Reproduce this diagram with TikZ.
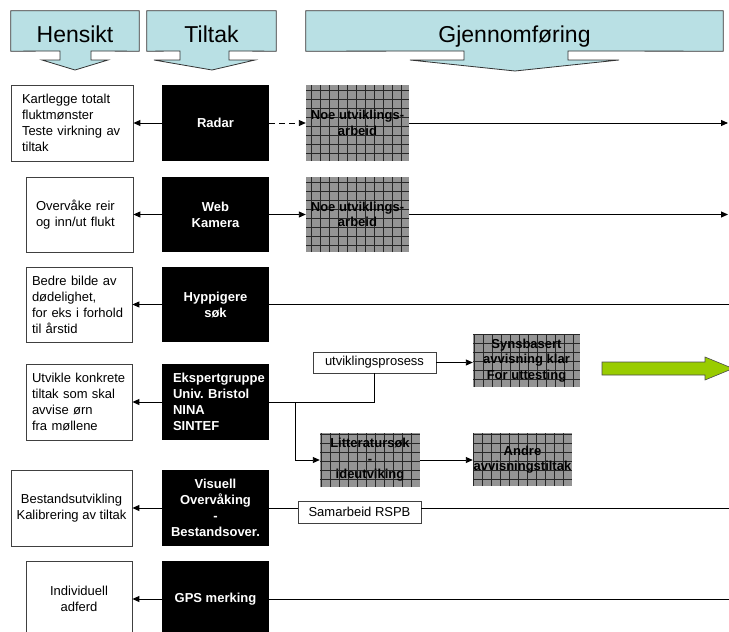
\documentclass[tikz,border=0pt]{standalone}
\usepackage{fontspec}
\setmainfont{Liberation Sans}
\usetikzlibrary{arrows.meta, calc, backgrounds}
\definecolor{headcyan}{RGB}{185,224,228}
\definecolor{leafgreen}{RGB}{153,204,0}

\begin{document}
\begin{tikzpicture}[x=1pt, y=-1pt,
    every node/.style={inner sep=0pt},
    head/.style={minimum height=40pt, text height=24pt, text depth=2pt,
                 font=\fontsize{23}{26}\selectfont},
    hdline/.style={draw=black!80, fill=headcyan, line width=0.8pt},
    goal/.style={draw=black!75, line width=0.8pt, fill=white, minimum height=76pt,
                 font=\fontsize{13}{16}\selectfont},
    tool/.style={fill=black, text=white, minimum width=107pt, minimum height=76pt,
                 align=center, font=\fontsize{13}{16}\selectfont\bfseries\frenchspacing},
    work/.style={fill=black!42, minimum width=103pt, minimum height=76pt, align=center,
                 font=\fontsize{13}{15.5}\selectfont\bfseries,
                 path picture={\draw[black!85, line width=0.5pt, step=9pt]
                   (path picture bounding box.south west) grid (path picture bounding box.north east);}},
    tag/.style={draw=black!75, line width=0.8pt, fill=white, minimum height=22pt,
                font=\fontsize{13}{16}\selectfont},
    link/.style={line width=0.9pt, -{Triangle[length=7pt,width=6pt]}},
    wire/.style={line width=0.9pt}
  ]
  \useasboundingbox (0,0) rectangle (729,632);
  \clip (0,0) rectangle (729,632);

  % column heads
  \node[head, minimum width=128pt] (hensikt) at (75,31) {Hensikt};
  \node[head, minimum width=129pt] (tiltak) at (211.5,31) {Tiltak};
  \node[head, minimum width=417pt] (gjennom) at (514.5,31) {Gjennomføring};
  \begin{scope}[on background layer]
    \draw[hdline] (hensikt.south west) -- (hensikt.north west) -- (hensikt.north east)
      -- (hensikt.south east) -- (91,51) -- (91,60) -- (108,60) -- (75,70) -- (42,60)
      -- (60,60) -- (60,51) -- cycle;
    \draw[hdline] (tiltak.south west) -- (tiltak.north west) -- (tiltak.north east)
      -- (tiltak.south east) -- (229,51) -- (229,60) -- (255,60) -- (212,70) -- (154,60)
      -- (180,60) -- (180,51) -- cycle;
    \draw[hdline] (gjennom.south west) -- (gjennom.north west) -- (gjennom.north east)
      -- (gjennom.south east) -- (568,51) -- (568,60) -- (619,60) -- (515,71) -- (410,60)
      -- (464,60) -- (464,51) -- cycle;
  \end{scope}

  % row 1: radar
  \node[goal, text width=100pt, inner xsep=11pt, align=left] (g1) at (72,123)
    {Kartlegge totalt\\fluktmønster\\Teste virkning av\\tiltak};
  \node[tool] (t1) at (215.5,123) {Radar};
  \node[work] (w1) at (357.5,123) {Noe utviklings-\\arbeid};
  \coordinate (e1) at (728,123);
  \draw[link] (t1) -- (g1);
  \draw[link, dash pattern=on 6pt off 4pt] (t1) -- (w1);
  \draw[link] (w1) -- (e1);

  % row 2: web camera
  \node[goal, minimum height=75pt, text width=87pt, inner xsep=10pt, align=left] (g2) at (79.5,214.5)
    {Overvåke reir\\og inn/ut flukt};
  \node[tool, minimum height=75pt] (t2) at (215.5,214.5) {Web\\Kamera};
  \node[work, minimum height=75pt] (w2) at (357.5,214.5) {Noe utviklings-\\arbeid};
  \coordinate (e2) at (728,214.5);
  \draw[link] (t2) -- (g2);
  \draw[link] (t2) -- (w2);
  \draw[link] (w2) -- (e2);

  % row 3: search
  \node[goal, minimum height=75pt, text width=94pt, inner xsep=6pt, align=left] (g3) at (79,304.5)
    {Bedre bilde av\\dødelighet,\\for eks i forhold\\til årstid};
  \node[tool, minimum height=75pt] (t3) at (215.5,304.5) {Hyppigere\\søk};
  \coordinate (e3) at (729,304.5);
  \draw[link] (t3) -- (g3);
  \draw[wire] (t3) -- (e3);

  % row 4: expert group
  \node[goal, text width=94pt, inner xsep=6pt, align=left] (g4) at (79,402)
    {Utvikle konkrete\\tiltak som skal\\avvise ørn\\fra møllene};
  \node[tool, text width=85pt, inner xsep=11pt, align=left] (t4) at (215.5,402)
    {Ekspertgruppe\\Univ. Bristol\\NINA\\SINTEF};
  \node[tag, minimum width=123pt, minimum height=21pt] (proc) at (374.5,362.5) {utviklingsprosess};
  \node[work, minimum width=107pt, minimum height=53pt] (syn) at (526.5,360.5)
    {Synsbasert\\avvisning klar\\For uttesting};
  \node[work, minimum width=100pt, minimum height=54pt] (lit) at (370,460)
    {Litteratursøk\\-\\ideutviking};
  \node[work, minimum width=99pt, minimum height=53pt] (andre) at (522.5,459.5)
    {Andre\\avvisningstiltak};
  \coordinate (fork) at (295,402);
  \draw[link] (t4) -- (g4);
  \draw[wire] (t4.east) -- (proc.south |- t4.east) -- (proc.south);
  \draw[link] (fork) |- (lit.west);
  \draw[link] (proc.east) -- (proc.east -| syn.west);
  \draw[link] (lit.east) -- (lit.east -| andre.west);
  \draw[draw=black!70, fill=leafgreen, line width=0.6pt]
    (602,362) -- (705,362) -- (705,357) -- (733,368.5) -- (705,380) -- (705,375)
    -- (602,375) -- cycle;

  % row 5: visual counts
  \node[goal, minimum width=121pt, align=center] (g5) at (71.5,508)
    {Bestandsutvikling\\Kalibrering av tiltak};
  \node[tool] (t5) at (215.5,508) {Visuell\\Overvåking\\-\\Bestandsover.};
  \node[tag, minimum width=123pt] (rspb) at (359.5,512) {Samarbeid RSPB};
  \coordinate (e5) at (729,508);
  \draw[link] (t5) -- (g5);
  \draw[wire] (t5.east) -- (rspb.west |- t5.east);
  \draw[wire] (rspb.east |- e5) -- (e5);

  % row 6: GPS tagging
  \node[goal, minimum width=106pt, align=center] (g6) at (79,599) {Individuell\\adferd};
  \node[tool] (t6) at (215.5,599) {GPS merking};
  \coordinate (e6) at (729,599);
  \draw[link] (t6) -- (g6);
  \draw[wire] (t6) -- (e6);
\end{tikzpicture}
\end{document}
